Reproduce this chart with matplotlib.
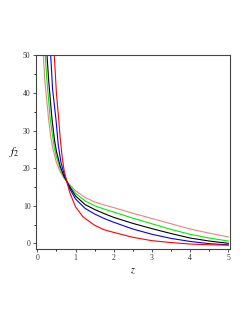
import matplotlib
matplotlib.use("Agg")
import matplotlib.pyplot as plt
from matplotlib.ticker import MultipleLocator

plt.rcParams['font.family'] = ['Liberation Serif', 'DejaVu Serif']
plt.rcParams['mathtext.fontset'] = 'stix'

# Data (z, f2) for each curve
red_z = [0.445, 0.5, 0.56, 0.6, 0.65, 0.7, 0.77, 0.85, 1.0, 1.2, 1.5, 1.75, 2.0, 2.5, 3.0, 3.5, 4.0, 4.5, 5.0]
red_f = [50, 40, 33, 28, 23, 19.5, 16.5, 13.5, 9.7, 7.0, 4.8, 3.6, 2.9, 1.6, 0.7, 0.2, -0.2, -0.4, -0.5]

blue_z = [0.351, 0.4, 0.49, 0.55, 0.62, 0.7, 0.77, 0.85, 1.0, 1.25, 1.5, 1.75, 2.0, 2.5, 3.0, 3.5, 4.0, 4.5, 5.0]
blue_f = [50, 41, 32.8, 26, 21.5, 18.5, 16.5, 14.5, 11.8, 9.3, 7.8, 6.6, 5.6, 3.8, 2.4, 1.3, 0.5, -0.1, -0.4]

black_z = [0.254, 0.3, 0.385, 0.45, 0.5, 0.6, 0.7, 0.77, 0.85, 1.0, 1.25, 1.5, 1.75, 2.0, 2.5, 3.0, 3.5, 4.0, 4.5, 5.0]
black_f = [50, 43, 33, 27.5, 24.5, 20.5, 17.8, 16.5, 15, 12.6, 10.3, 9.0, 7.9, 6.9, 5.3, 3.9, 2.6, 1.4, 0.6, 0.0]

green_z = [0.209, 0.25, 0.34, 0.4, 0.445, 0.5, 0.6, 0.7, 0.77, 0.85, 1.0, 1.25, 1.5, 1.75, 2.0, 2.5, 3.0, 3.5, 4.0, 4.5, 5.0]
green_f = [50, 43.5, 33, 28.5, 25.5, 23, 19.8, 17.5, 16.5, 15.3, 13.3, 11.3, 10, 9.1, 8.3, 6.7, 5.2, 3.7, 2.4, 1.4, 0.6]

lred_z = [0.157, 0.2, 0.298, 0.35, 0.4, 0.5, 0.6, 0.7, 0.77, 0.85, 1.0, 1.25, 1.5, 1.75, 2.0, 2.5, 3.0, 3.5, 4.0, 4.5, 5.0]
lred_f = [50, 43, 32.8, 28.5, 25.5, 21.5, 19, 17.3, 16.5, 15.6, 14, 12.2, 11, 10.2, 9.5, 8.0, 6.6, 5.2, 3.8, 2.7, 1.7]

x_ticks = [0, 1, 2, 3, 4, 5]
y_ticks = [0, 10, 20, 30, 40, 50]

fig = plt.figure(figsize=(2.49, 3.23), dpi=100)
ax = fig.add_axes([0.1446, 0.230, 0.7791, 0.5997])

lw = 0.8
ax.plot(lred_z, lred_f, color='#f08080', lw=lw)
ax.plot(green_z, green_f, color='#00ee00', lw=lw)
ax.plot(black_z, black_f, color='black', lw=lw)
ax.plot(blue_z, blue_f, color='#0000ff', lw=lw)
ax.plot(red_z, red_f, color='#ff0000', lw=lw)

ax.set_xlim(-0.034, 5.044)
ax.set_ylim(-1.44, 50.1)
ax.set_xticks(x_ticks)
ax.set_yticks(y_ticks)
ax.xaxis.set_minor_locator(MultipleLocator(0.5))
ax.yaxis.set_minor_locator(MultipleLocator(5))
ax.tick_params(which='major', direction='out', length=2, width=0.6, labelsize=5.5, pad=2, colors='#333333')
ax.tick_params(which='minor', direction='out', length=1.5, width=0.6)
for s in ax.spines.values():
    s.set_linewidth(0.8)
    s.set_color('#444444')

ax.set_xlabel(r'$z$', fontsize=7, labelpad=3.5)
ax.set_ylabel(r'$f_2$', fontsize=8, rotation=0, labelpad=6, va='center')

fig.savefig('out.png', dpi=100)
